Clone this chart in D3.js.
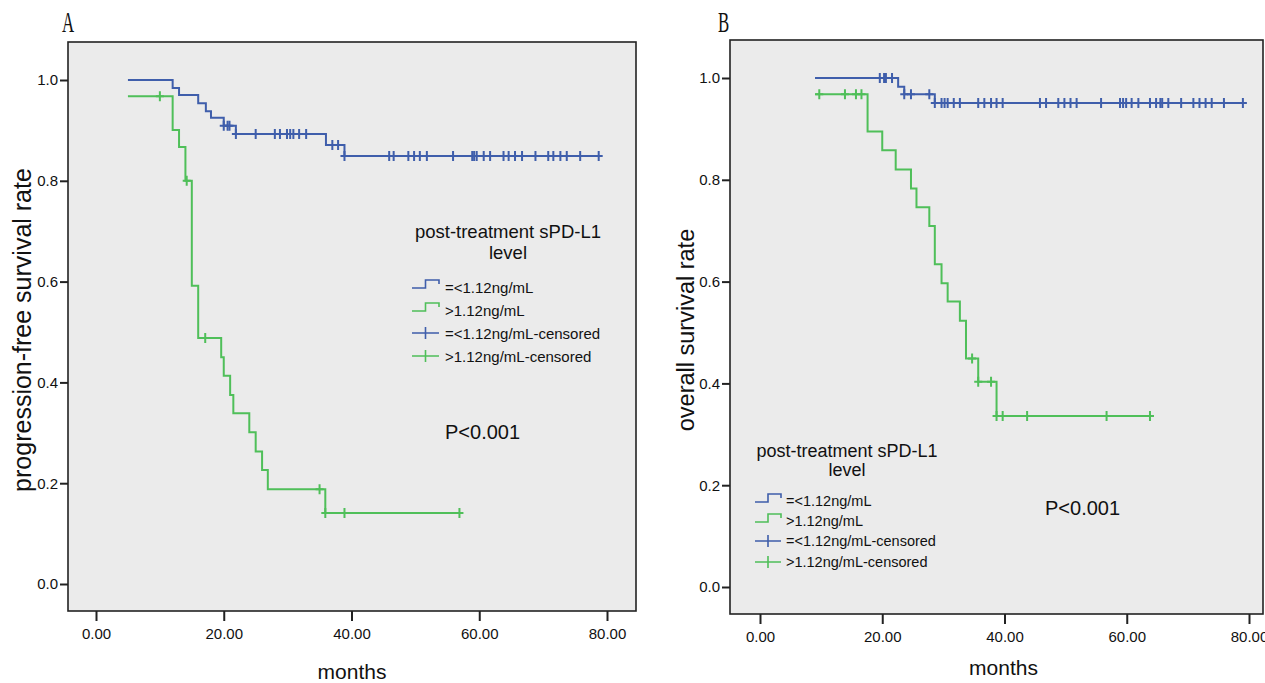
<!DOCTYPE html>
<html>
<head>
<meta charset="utf-8">
<script src="https://cdn.jsdelivr.net/npm/d3@7"></script>
<style>
  body { margin: 0; background: #fff; }
  svg text { font-family: "Liberation Sans", Arial, sans-serif; fill: #111; }
</style>
</head>
<body>
<svg id="chart" width="1265" height="683"></svg>
<script>
// tick labels
var monthTicks = [0, 20, 40, 60, 80];
var rateTicks = [0, 0.2, 0.4, 0.6, 0.8, 1.0];
var groups = ['=<1.12ng/mL', '>1.12ng/mL'];

// A: progression-free survival, step times (months) and survival after each step
var pfsLowTimes = [5, 12.0, 13.0, 16.0, 17.2, 18.0, 20.0, 21.9, 36.0, 38.9];
var pfsLowSurv = [1.0, 0.984, 0.970, 0.954, 0.938, 0.925, 0.909, 0.893, 0.871, 0.849];
var pfsLowCensor = [20.0, 20.6, 20.9, 21.9, 25.0, 28.0, 28.8, 29.9, 30.4, 30.9, 31.8, 32.9, 37.0, 37.9, 38.9,
  45.9, 46.6, 48.9, 49.8, 50.7, 51.8, 55.9, 58.9, 59.2, 59.6, 60.7, 61.7, 63.8, 64.6, 65.6, 66.7, 68.8,
  70.8, 71.6, 72.7, 73.7, 75.8, 78.7];

var pfsHighTimes = [5, 12.0, 13.0, 14.0, 15.0, 16.0, 19.6, 20.0, 21.0, 21.5, 24.0, 25.0, 26.0, 26.9, 35.9];
var pfsHighSurv = [0.968, 0.901, 0.867, 0.800, 0.592, 0.488, 0.450, 0.413, 0.375, 0.339, 0.301, 0.263, 0.226, 0.188, 0.141];
var pfsHighCensor = [10.0, 14.2, 17.1, 35.0, 35.9, 38.9, 56.9];

// B: overall survival
var osLowTimes = [9.0, 22.6, 23.6, 28.6];
var osLowSurv = [1.0, 0.983, 0.968, 0.951];
var osLowCensor = [19.6, 20.3, 20.6, 21.6, 23.6, 24.7, 27.7, 28.6, 29.7, 30.2, 30.7, 31.7, 32.7, 35.7, 36.7,
  37.8, 38.7, 39.7, 45.8, 46.8, 48.8, 49.8, 50.8, 51.8, 55.8, 58.9, 59.4, 59.9, 60.8, 61.9, 63.8, 64.8,
  65.5, 65.8, 66.8, 68.9, 70.9, 71.9, 72.9, 73.9, 75.9, 79.0];

var osHighTimes = [9.0, 17.6, 20.0, 22.2, 24.7, 25.6, 27.7, 28.6, 29.7, 30.7, 32.7, 33.7, 35.7, 38.7];
var osHighSurv = [0.968, 0.895, 0.858, 0.820, 0.783, 0.746, 0.709, 0.634, 0.597, 0.561, 0.523, 0.449, 0.403, 0.336];
var osHighCensor = [9.7, 13.9, 15.7, 16.6, 34.7, 35.7, 37.8, 38.7, 39.7, 43.7, 56.7, 63.8];

var blue = '#3f5eab';
var green = '#4fbf59';

var svg = d3.select('#chart');

function survAt(times, surv, t) {
  var v = surv[0];
  for (var i = 0; i < times.length; i++) {
    if (times[i] <= t + 1e-9) v = surv[i];
  }
  return v;
}

function drawPanel(p) {
  var g = svg.append('g');
  var x = d3.scaleLinear().domain([0, 80]).range(p.xRange);
  var y = d3.scaleLinear().domain([0, 1]).range(p.yRange);

  g.append('rect')
    .attr('x', p.frame[0]).attr('y', p.frame[1])
    .attr('width', p.frame[2] - p.frame[0]).attr('height', p.frame[3] - p.frame[1])
    .attr('fill', '#ebebeb').attr('stroke', '#222').attr('stroke-width', 1.6);

  var yAxis = g.append('g')
    .attr('transform', 'translate(' + p.frame[0] + ',0)')
    .call(d3.axisLeft(y).tickValues(rateTicks).tickFormat(d3.format('.1f')).tickSize(8).tickPadding(2));
  var xAxis = g.append('g')
    .attr('transform', 'translate(0,' + p.frame[3] + ')')
    .call(d3.axisBottom(x).tickValues(monthTicks).tickFormat(d3.format('.2f')).tickSize(10).tickPadding(7));
  [yAxis, xAxis].forEach(function(a) {
    a.select('.domain').remove();
    a.selectAll('.tick line').attr('stroke', '#222').attr('stroke-width', 2);
    a.selectAll('.tick text').attr('font-size', 15).attr('fill', '#111')
      .style('font-family', '"Liberation Sans", Arial, sans-serif');
  });

  var line = d3.line()
    .x(function(d) { return x(d[0]); })
    .y(function(d) { return y(d[1]); })
    .curve(d3.curveStepAfter);

  p.curves.forEach(function(c) {
    var pts = c.times.map(function(t, i) { return [t, c.surv[i]]; });
    var tEnd = d3.max(c.censor);
    pts.push([tEnd, c.surv[c.surv.length - 1]]);
    g.append('path').attr('d', line(pts))
      .attr('fill', 'none').attr('stroke', c.color).attr('stroke-width', 2);
    g.selectAll(null).data(c.censor).enter().append('path')
      .attr('d', function(t) {
        var cx = x(t), cy = y(survAt(c.times, c.surv, t));
        return 'M' + (cx - 4) + ',' + cy + 'H' + (cx + 4) + 'M' + cx + ',' + (cy - 5) + 'V' + (cy + 5);
      })
      .attr('fill', 'none').attr('stroke', c.color).attr('stroke-width', 2);
  });

  // axis titles
  g.append('text')
    .attr('x', (p.frame[0] + p.frame[2]) / 2 + p.monthsDx).attr('y', p.monthsY)
    .attr('text-anchor', 'middle').attr('dominant-baseline', 'central')
    .attr('font-size', 21).text('months');
  g.append('text')
    .attr('transform', 'translate(' + p.ylabX + ',' + p.ylabY + ') rotate(-90)')
    .attr('text-anchor', 'middle').attr('dominant-baseline', 'central')
    .attr('font-size', p.ylabSize).text(p.ylabel);

  // panel letter
  g.append('text')
    .attr('transform', 'translate(' + p.letter[0] + ',' + p.letter[1] + ') scale(0.58,1)')
    .style('font-family', '"Liberation Serif", "Times New Roman", serif')
    .attr('font-size', 29).text(p.letter[2]);

  // legend
  var L = p.legend;
  g.append('text').attr('x', L.cx).attr('y', L.titleY[0])
    .attr('text-anchor', 'middle').attr('dominant-baseline', 'central')
    .attr('font-size', L.titleSize).text('post-treatment sPD-L1');
  g.append('text').attr('x', L.cx).attr('y', L.titleY[1])
    .attr('text-anchor', 'middle').attr('dominant-baseline', 'central')
    .attr('font-size', L.titleSize).text('level');
  var items = [
    { label: groups[0], color: blue, kind: 'step' },
    { label: groups[1], color: green, kind: 'step' },
    { label: groups[0] + '-censored', color: blue, kind: 'cross' },
    { label: groups[1] + '-censored', color: green, kind: 'cross' }
  ];
  items.forEach(function(it, i) {
    var r = L.rows[i];
    var x0 = L.icon[0], x1 = L.icon[1], xm = (x0 + x1) / 2;
    var d = it.kind === 'step'
      ? 'M' + x0 + ',' + (r + 1) + 'H' + xm + 'V' + (r - 7) + 'H' + x1 + 'V' + (r - 3)
      : 'M' + x0 + ',' + r + 'H' + x1 + 'M' + xm + ',' + (r - 6) + 'V' + (r + 6);
    g.append('path').attr('d', d).attr('fill', 'none')
      .attr('stroke', it.color).attr('stroke-width', 1.6);
    g.append('text').attr('x', L.textX).attr('y', r)
      .attr('dominant-baseline', 'central').attr('font-size', L.size).text(it.label);
  });

  g.append('text').attr('x', p.pval[0]).attr('y', p.pval[1])
    .attr('dominant-baseline', 'central').attr('font-size', 20).text('P<0.001');
}

drawPanel({
  frame: [68, 42, 636, 611],
  xRange: [96, 607],
  yRange: [584, 80],
  ylabel: 'progression-free survival rate',
  ylabX: 22, ylabY: 330, ylabSize: 25,
  monthsDx: 0, monthsY: 671,
  letter: [62, 32, 'A'],
  curves: [
    { times: pfsLowTimes, surv: pfsLowSurv, censor: pfsLowCensor, color: blue },
    { times: pfsHighTimes, surv: pfsHighSurv, censor: pfsHighCensor, color: green }
  ],
  legend: { cx: 508, titleY: [231, 252], titleSize: 18.5, rows: [287, 310, 333, 356],
    icon: [412, 439], textX: 445, size: 15 },
  pval: [445, 432]
});

drawPanel({
  frame: [730, 40, 1263, 614],
  xRange: [760, 1249],
  yRange: [587, 78],
  ylabel: 'overall survival rate',
  ylabX: 686, ylabY: 330, ylabSize: 23.5,
  monthsDx: 7, monthsY: 667,
  letter: [718, 32, 'B'],
  curves: [
    { times: osLowTimes, surv: osLowSurv, censor: osLowCensor, color: blue },
    { times: osHighTimes, surv: osHighSurv, censor: osHighCensor, color: green }
  ],
  legend: { cx: 847, titleY: [451, 470], titleSize: 18, rows: [501, 521, 541, 562],
    icon: [755, 781], textX: 786, size: 14.5 },
  pval: [1045, 508]
});
</script>
</body>
</html>
